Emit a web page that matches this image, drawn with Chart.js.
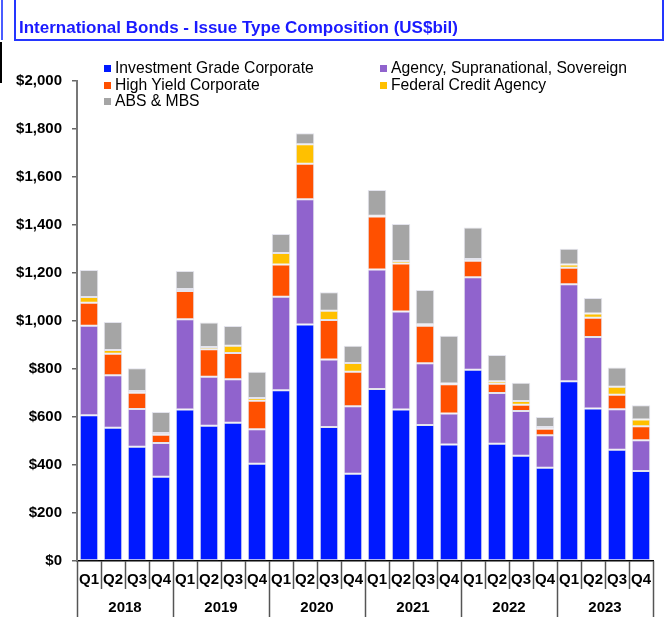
<!DOCTYPE html>
<html>
<head>
<meta charset="utf-8">
<script src="https://cdn.jsdelivr.net/npm/chart.js@4.4.0/dist/chart.umd.min.js"></script>
<style>
    html, body { margin: 0; padding: 0; background: #fff; }
    #wrap { position: relative; width: 671px; height: 626px; overflow: hidden; font-family: Arial, "Liberation Sans", sans-serif; }
    #chart { position: absolute; left: 0; top: 0; }
    #titleBox {
        position: absolute; left: 14px; top: -3px; width: 646px; height: 40px;
        border: 2px solid #2436ff; box-sizing: content-box;
    }
    #titleBox span {
        position: absolute; left: 3px; top: 19px;
        font: bold 17px Arial, "Liberation Sans", sans-serif; color: #1a1aff; white-space: nowrap;
    }
    .leg { position: absolute; font: 15.7px Arial, "Liberation Sans", sans-serif; color: #000; white-space: nowrap; line-height: 18px; }
    .leg i { position: absolute; left: -11px; top: 6px; width: 7px; height: 7px; }
    .edge { position: absolute; }
</style>
</head>
<body>
<div id="wrap">
    <canvas id="chart" width="671" height="626"></canvas>
    <div id="titleBox"><span>International Bonds - Issue Type Composition (US$bil)</span></div>
    <div class="edge" style="left:1px;top:0;width:2px;height:40px;background:#4a5cff"></div>
    <div class="edge" style="left:0;top:42px;width:2px;height:41px;background:#000"></div>
    <div id="legend"></div>
</div>
<script>
document.addEventListener('DOMContentLoaded', function() {
    var years = ['2018', '2019', '2020', '2021', '2022', '2023'];
    var quarters = ['Q1', 'Q2', 'Q3', 'Q4'];

    var seriesNames = ['Investment Grade Corporate', 'Agency, Supranational, Sovereign', 'High Yield Corporate', 'Federal Credit Agency', 'ABS & MBS'];
    var seriesColors = ['#0019ff', '#9063cd', '#ff5000', '#ffc000', '#a5a5a5'];

    var investmentGrade = [607, 555, 476, 351, 631, 564, 576, 405, 711, 985, 558, 364, 717, 631, 567, 485, 797, 489, 439, 389, 749, 635, 464, 375];
    var agencySupraSov = [373, 219, 157, 141, 376, 204, 181, 144, 390, 522, 282, 281, 498, 409, 257, 130, 385, 211, 186, 135, 404, 298, 168, 128];
    var highYield = [96, 90, 68, 34, 118, 114, 110, 119, 134, 148, 164, 144, 220, 200, 156, 121, 69, 39, 26, 27, 69, 81, 61, 58];
    var federalCredit = [24, 15, 7, 7, 8, 10, 30, 11, 48, 81, 39, 36, 4, 10, 6, 4, 7, 10, 16, 7, 13, 17, 33, 29];
    var absMbs = [112, 117, 95, 88, 75, 102, 82, 110, 79, 46, 77, 72, 107, 154, 143, 199, 132, 109, 76, 42, 66, 65, 80, 59];

    var yTicks = [0, 200, 400, 600, 800, 1000, 1200, 1400, 1600, 1800, 2000];

    var seriesData = [investmentGrade, agencySupraSov, highYield, federalCredit, absMbs];

    // labels: one per quarter
    var labels = [];
    years.forEach(function(y) {
        quarters.forEach(function(q) { labels.push(q); });
    });

    // html legend, two columns
    var legendPos = [[115, 59], [391, 59], [115, 76], [391, 76], [115, 92]];
    var legendEl = document.getElementById('legend');
    seriesNames.forEach(function(name, i) {
        var d = document.createElement('div');
        d.className = 'leg';
        d.style.left = legendPos[i][0] + 'px';
        d.style.top = legendPos[i][1] + 'px';
        d.innerHTML = '<i style="background:' + seriesColors[i] + '"></i>';
        d.appendChild(document.createTextNode(name));
        legendEl.appendChild(d);
    });

    // quarter / year separators and year labels under the axis
    var groupAxis = {
        id: 'groupAxis',
        afterDraw: function(chart) {
            var c = chart.ctx;
            var xs = chart.scales.x;
            var base = chart.chartArea.bottom;
            var half = (xs.getPixelForValue(1) - xs.getPixelForValue(0)) / 2;
            c.save();
            c.strokeStyle = '#555';
            c.lineWidth = 1.5;
            for (var i = 0; i <= labels.length; i++) {
                var x = Math.round(xs.getPixelForValue(i) - half) + 0.5;
                var end = (i % 4 === 0) ? base + 56 : base + 28;
                c.beginPath();
                c.moveTo(x, base);
                c.lineTo(x, end);
                c.stroke();
            }
            c.fillStyle = '#000';
            c.font = 'bold 15px Arial, "Liberation Sans", sans-serif';
            c.textAlign = 'center';
            c.textBaseline = 'middle';
            years.forEach(function(y, k) {
                var x0 = xs.getPixelForValue(k * 4) - half;
                var x1 = xs.getPixelForValue(k * 4 + 3) + half;
                c.fillText(y, (x0 + x1) / 2, base + 47);
            });
            c.restore();
        }
    };

    var ctx = document.getElementById('chart').getContext('2d');
    var chart = new Chart(ctx, {
        type: 'bar',
        data: {
            labels: labels,
            datasets: seriesNames.map(function(name, i) {
                return {
                    label: name,
                    data: seriesData[i],
                    backgroundColor: seriesColors[i],
                    borderColor: 'rgba(225, 225, 235, 0.9)',
                    borderWidth: 1,
                    borderSkipped: false,
                    barPercentage: 0.77,
                    categoryPercentage: 1
                };
            })
        },
        options: {
            responsive: false,
            animation: false,
            devicePixelRatio: 1,
            layout: { padding: { top: 81, right: 18, bottom: 0, left: 0 } },
            scales: {
                x: {
                    stacked: true,
                    grid: { display: false, drawTicks: false },
                    border: { color: '#000', width: 1.5 },
                    ticks: {
                        autoSkip: false,
                        maxRotation: 0,
                        padding: 10,
                        color: '#000',
                        font: { family: 'Arial, "Liberation Sans", sans-serif', size: 15, weight: 'bold' }
                    },
                    afterFit: function(scale) { scale.height = 65; }
                },
                y: {
                    stacked: true,
                    min: 0,
                    max: 2000,
                    afterBuildTicks: function(scale) {
                        scale.ticks = yTicks.map(function(v) { return { value: v }; });
                    },
                    grid: { drawOnChartArea: false, drawTicks: true, tickLength: 5, color: '#666', lineWidth: 1.5 },
                    border: { color: '#777', width: 2 },
                    ticks: {
                        padding: 10,
                        color: '#000',
                        font: { family: 'Arial, "Liberation Sans", sans-serif', size: 15, weight: 'bold' },
                        callback: function(value) {
                            return '$' + value.toLocaleString('en-US');
                        }
                    },
                    afterFit: function(scale) { scale.width = 77; }
                }
            },
            plugins: {
                legend: { display: false },
                title: { display: false },
                tooltip: { enabled: false }
            }
        },
        plugins: [groupAxis]
    });
});
</script>
</body>
</html>
